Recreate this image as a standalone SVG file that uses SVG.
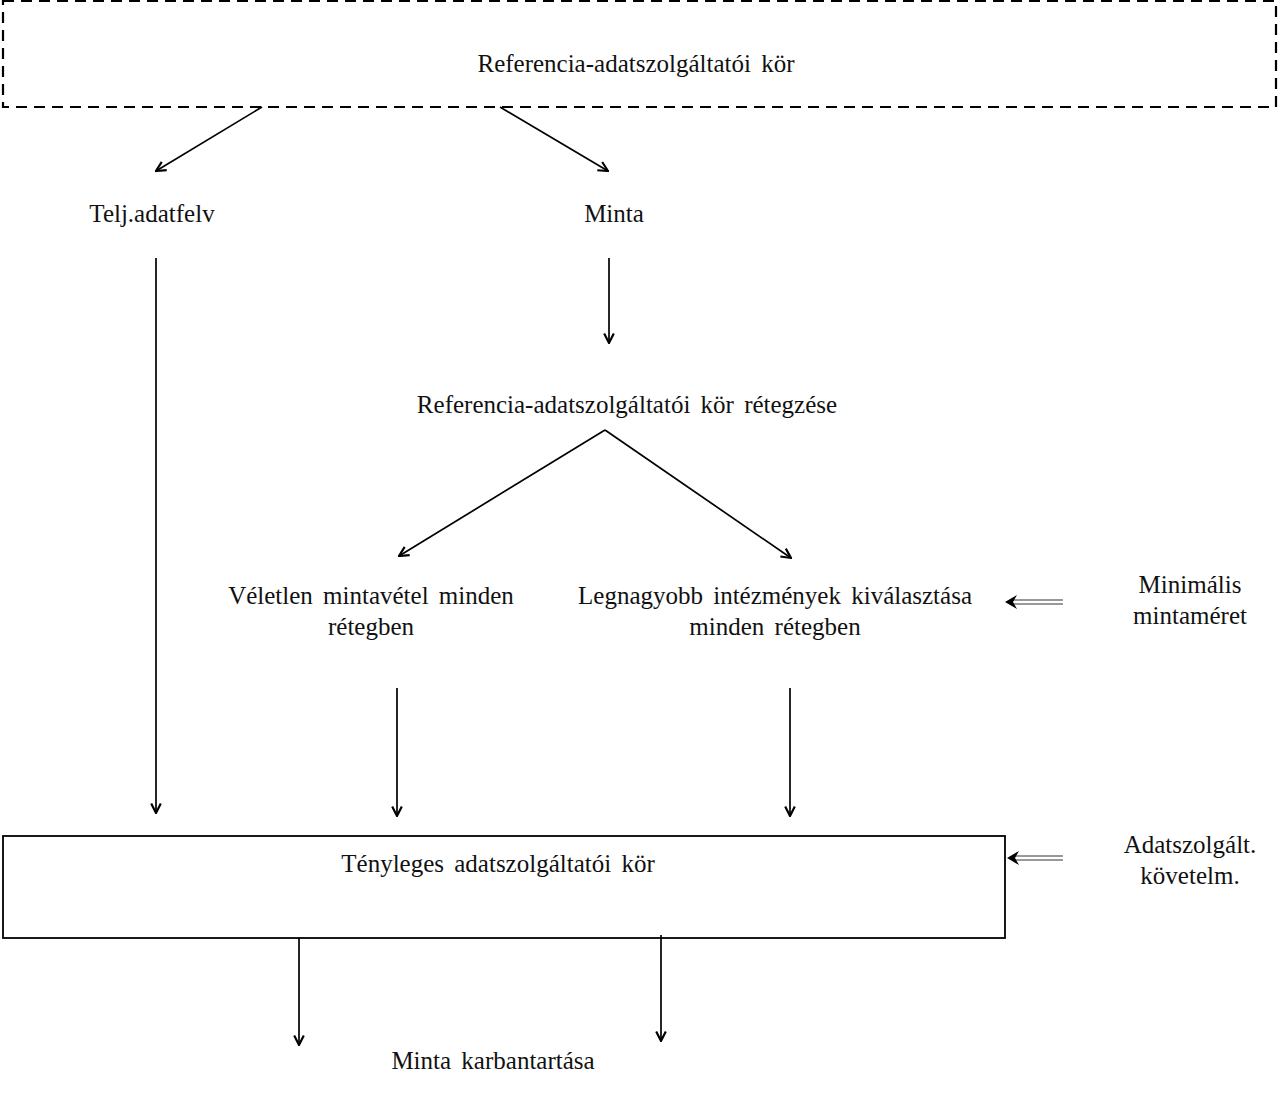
<svg xmlns="http://www.w3.org/2000/svg" width="1280" height="1103" viewBox="0 0 1280 1103">
<defs>
<marker id="ah" viewBox="0 0 10 10" refX="9" refY="5" markerWidth="12" markerHeight="12" markerUnits="userSpaceOnUse" orient="auto">
<path d="M1,1 L9,5 L1,9" fill="none" stroke="#000" stroke-width="1.8"/>
</marker>
<style>
text{font-family:"Liberation Serif",serif;font-size:25px;fill:#111;text-anchor:middle;word-spacing:4px}
.c{stroke:#000;stroke-width:1.7;fill:none}
.d{stroke:#777;stroke-width:1.4;fill:none}
</style>
</defs>
<g id="connectors">
<line class="c" x1="262" y1="107" x2="156" y2="171" marker-end="url(#ah)"/>
<line class="c" x1="500" y1="107" x2="608" y2="171" marker-end="url(#ah)"/>
<line class="c" x1="156" y1="258" x2="156" y2="813" marker-end="url(#ah)"/>
<line class="c" x1="609" y1="258" x2="609" y2="343" marker-end="url(#ah)"/>
<line class="c" x1="605" y1="430" x2="399" y2="556" marker-end="url(#ah)"/>
<line class="c" x1="605" y1="430" x2="791" y2="558" marker-end="url(#ah)"/>
<line class="c" x1="397" y1="688" x2="397" y2="816" marker-end="url(#ah)"/>
<line class="c" x1="790" y1="688" x2="790" y2="816" marker-end="url(#ah)"/>
<line class="c" x1="299" y1="938" x2="299" y2="1045" marker-end="url(#ah)"/>
<line class="c" x1="661" y1="935" x2="661" y2="1041" marker-end="url(#ah)"/>
<line class="d" x1="1063" y1="600" x2="1012" y2="600"/>
<line class="d" x1="1063" y1="604" x2="1012" y2="604"/>
<path d="M1005,602 L1017,595 L1013,602 L1017,609 Z" fill="#000"/>
<line class="d" x1="1063" y1="856" x2="1014" y2="856"/>
<line class="d" x1="1063" y1="860" x2="1014" y2="860"/>
<path d="M1007,858 L1019,851 L1015,858 L1019,865 Z" fill="#000"/>
</g>
<g id="ref">
<rect x="3" y="1" width="1273" height="106" fill="none" stroke="#000" stroke-width="2.2" stroke-dasharray="11 7"/>
<text x="636" y="72">Referencia-adatszolgáltatói kör</text>
</g>
<g id="telj"><text x="152" y="222">Telj.adatfelv</text></g>
<g id="minta"><text x="614" y="222">Minta</text></g>
<g id="retegzes"><text x="627" y="413">Referencia-adatszolgáltatói kör rétegzése</text></g>
<g id="veletlen"><text x="371" y="604">Véletlen mintavétel minden</text><text x="371" y="635">rétegben</text></g>
<g id="legnagyobb"><text x="775" y="604">Legnagyobb intézmények kiválasztása</text><text x="775" y="635">minden rétegben</text></g>
<g id="minimalis"><text x="1190" y="593">Minimális</text><text x="1190" y="624">mintaméret</text></g>
<g id="tenyleges">
<rect x="3" y="836" width="1002" height="102" fill="none" stroke="#000" stroke-width="1.8"/>
<text x="498" y="872">Tényleges adatszolgáltatói kör</text>
</g>
<g id="kovetelm"><text x="1190" y="853">Adatszolgált.</text><text x="1190" y="884">követelm.</text></g>
<g id="karbantartas"><text x="493" y="1069">Minta karbantartása</text></g>
</svg>
